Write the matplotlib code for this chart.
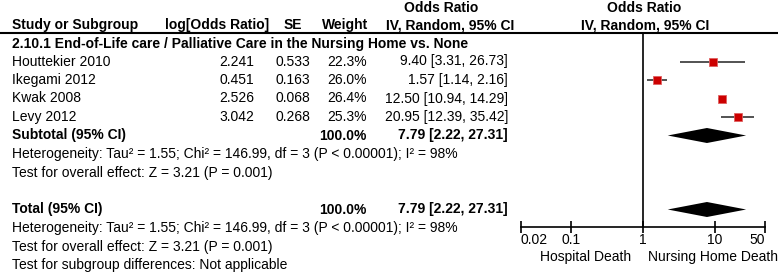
import numpy as np
import matplotlib.pyplot as plt

plt.rcParams['font.family'] = ['Liberation Sans', 'DejaVu Sans']

# data
group_title = '2.10.1 End-of-Life care / Palliative Care in the Nursing Home vs. None'
studies = ['Houttekier 2010', 'Ikegami 2012', 'Kwak 2008', 'Levy 2012']
log_or = [2.241, 0.451, 2.526, 3.042]
se = [0.533, 0.163, 0.068, 0.268]
weight = [22.3, 26.0, 26.4, 25.3]
or_est = [9.40, 1.57, 12.50, 20.95]
ci_lo = [3.31, 1.14, 10.94, 12.39]
ci_hi = [26.73, 2.16, 14.29, 35.42]
pooled_est = 7.79
pooled_lo = 2.22
pooled_hi = 27.31
het_text = 'Heterogeneity: Tau\u00b2 = 1.55; Chi\u00b2 = 146.99, df = 3 (P < 0.00001); I\u00b2 = 98%'
effect_text = 'Test for overall effect: Z = 3.21 (P = 0.001)'
subgroup_text = 'Test for subgroup differences: Not applicable'
ticks = [0.02, 0.1, 1, 10, 50]
tick_labels = ['0.02', '0.1', '1', '10', '50']
favours = ['Hospital Death', 'Nursing Home Death']

W, H = 778, 276
fig = plt.figure(figsize=(W / 100, H / 100), dpi=100)
fs = 10.0

# text layer in pixel coordinates
ax = fig.add_axes([0, 0, 1, 1])
ax.set_xlim(0, W)
ax.set_ylim(H, 0)
ax.axis('off')

x_name, x_log, x_se, x_w, x_ci = 12, 254, 310, 367, 508
y_first, dy = 61.5, 18.5
row_y = [y_first + i * dy for i in range(len(studies))]
y_sub = y_first + len(studies) * dy
y_total = y_sub + 4 * dy

def txt(x, y, s, ha='left', bold=False):
    ax.text(x, y, s, ha=ha, va='center', fontsize=fs,
            fontweight='bold' if bold else 'normal')

# headers
txt(441, 7.5, 'Odds Ratio', ha='center', bold=True)
txt(644, 7.5, 'Odds Ratio', ha='center', bold=True)
txt(x_name, 25, 'Study or Subgroup', bold=True)
txt(269, 25, 'log[Odds Ratio]', ha='right', bold=True)
txt(302, 25, 'SE', ha='right', bold=True)
txt(368, 25, 'Weight', ha='right', bold=True)
txt(450, 25, 'IV, Random, 95% CI', ha='center', bold=True)
txt(645, 25, 'IV, Random, 95% CI', ha='center', bold=True)
ax.axhline(32.5, color='black', lw=1.5)
txt(x_name, 44, group_title, bold=True)

for i, name in enumerate(studies):
    y = row_y[i]
    txt(x_name, y, name)
    txt(x_log, y, f'{log_or[i]:.3f}', ha='right')
    txt(x_se, y, f'{se[i]:.3f}', ha='right')
    txt(x_w, y, f'{weight[i]:.1f}%', ha='right')
    txt(x_ci, y, f'{or_est[i]:.2f} [{ci_lo[i]:.2f}, {ci_hi[i]:.2f}]', ha='right')

pooled_str = f'{pooled_est:.2f} [{pooled_lo:.2f}, {pooled_hi:.2f}]'
total_w = f'{sum(weight):.1f}%'
for y0, label in [(y_sub, 'Subtotal (95% CI)'), (y_total, 'Total (95% CI)')]:
    txt(x_name, y0, label, bold=True)
    txt(x_w, y0, total_w, ha='right', bold=True)
    txt(x_ci, y0, pooled_str, ha='right', bold=True)
    txt(x_name, y0 + dy, het_text)
    txt(x_name, y0 + 2 * dy, effect_text)
txt(x_name, y_total + 3 * dy, subgroup_text)

# forest panel, log scale, same vertical pixel frame
x0, x1 = 520.7, 765.0
fx = fig.add_axes([x0 / W, 0, (x1 - x0) / W, 1])
fx.set_xscale('log')
fx.set_xlim(0.02, 50)
fx.set_ylim(H, 0)
fx.patch.set_alpha(0)
for s in ['top', 'left', 'right']:
    fx.spines[s].set_visible(False)
axis_y = y_total + dy - 1
fx.spines['bottom'].set_position(('data', axis_y))
fx.spines['bottom'].set_linewidth(1.2)
fx.set_xticks(ticks)
fx.set_xticklabels(tick_labels, fontsize=fs)
labels = fx.get_xticklabels()
labels[0].set_horizontalalignment('left')
labels[-1].set_horizontalalignment('right')
fx.xaxis.set_minor_locator(plt.NullLocator())
fx.tick_params(axis='x', direction='inout', length=8, width=1.2, pad=0)
fx.set_yticks([])

fx.vlines(1, 32.5, axis_y, color='black', lw=1.2)

for i in range(len(studies)):
    y = row_y[i]
    fx.hlines(y, ci_lo[i], ci_hi[i], color='#444444', lw=1.3, zorder=2)
    ms = 5.5 * (weight[i] / 26.4) ** 0.25
    fx.plot(or_est[i], y, marker='s', ms=ms, color='#cc0000',
            mec='#e06060', mew=0.6, zorder=3, snap=False)

for y0 in [y_sub, y_total]:
    h = 7.5
    fx.fill([pooled_lo, pooled_est, pooled_hi, pooled_est],
            [y0, y0 - h, y0, y0 + h], color='black', lw=0)

fx.text(0.16, axis_y + 30, favours[0], ha='center',
        va='center', fontsize=fs)
fx.text(9.4, axis_y + 30, favours[1], ha='center',
        va='center', fontsize=fs)

fig.savefig('out.png', dpi=100)
